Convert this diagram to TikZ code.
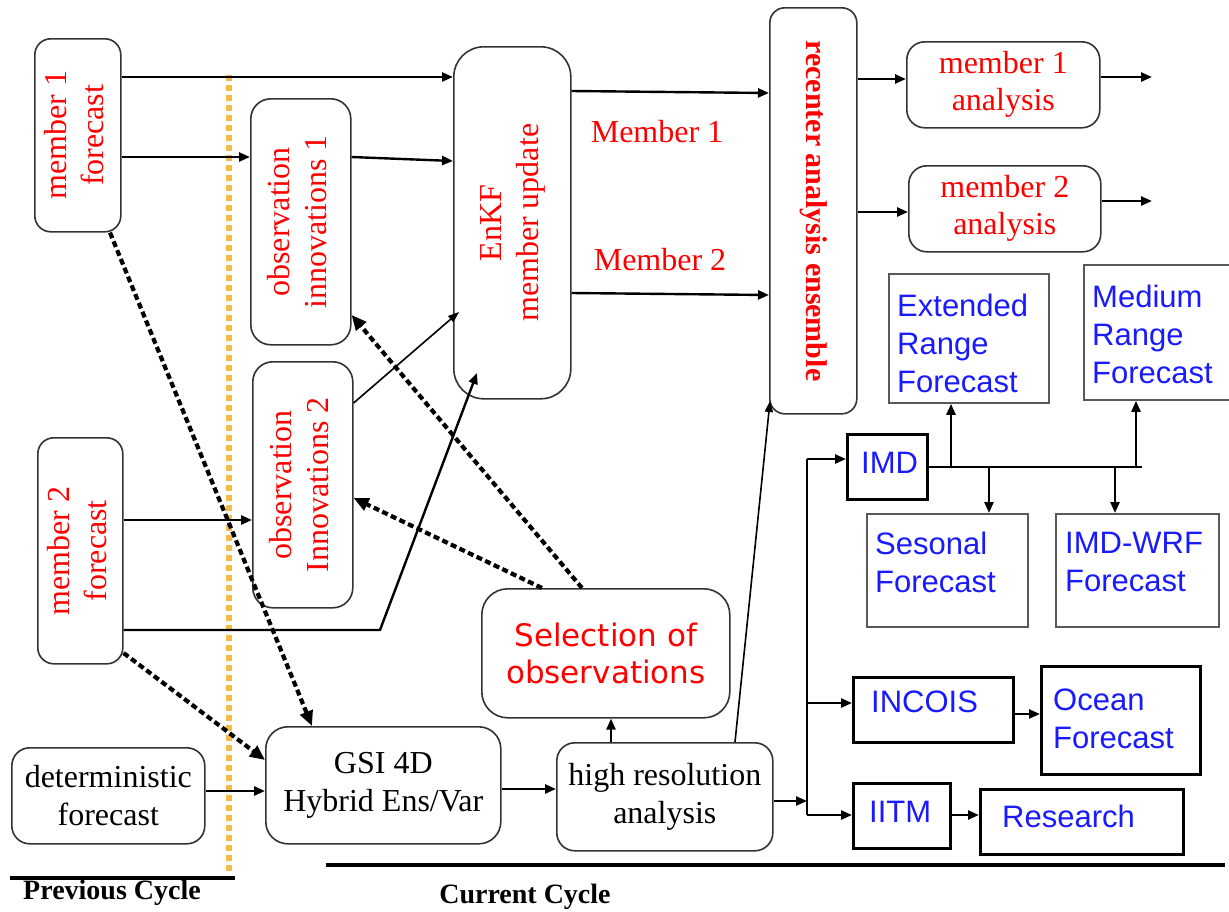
\documentclass[tikz,border=0pt]{standalone}
\usepackage{fontspec}
\setmainfont{Liberation Serif}
\newfontfamily\blueff{Liberation Sans}
\newfontfamily\selff{DejaVu Sans}
\usepackage{graphicx}
\usetikzlibrary{arrows.meta}
\definecolor{ored}{HTML}{FF0000}
\definecolor{tblue}{HTML}{1A1AFF}
\definecolor{dotorange}{HTML}{F5BA4A}
\newcommand{\rtxt}[1]{\rotatebox{90}{\begin{tabular}{@{}c@{}}#1\end{tabular}}}
\newcommand{\rtxtm}[1]{\rotatebox{-90}{#1}}
\tikzset{
  rbox/.style={draw=black!80, line width=1.6pt, rounded corners=16pt, inner sep=0pt, anchor=north west},
  sbox/.style={draw=black!65, line width=1.8pt, inner sep=0pt, anchor=north west},
  tbox/.style={draw=black, line width=2.8pt, inner sep=0pt, anchor=north west},
  redtxt/.style={text=ored, font=\fontsize{32}{37}\selectfont},
  blktxt/.style={text=black, font=\fontsize{32}{38}\selectfont},
  bluetxt/.style={text=tblue, font=\blueff\fontsize{31}{38}\selectfont, inner sep=0pt, align=left},
  arr/.style={line width=2.4pt, -{Triangle[length=11pt,width=9pt]}},
  arrthin/.style={line width=1.6pt, -{Triangle[length=11pt,width=8pt]}},
  dsh/.style={line width=4.2pt, dash pattern=on 6pt off 3.5pt, -{Triangle[length=15pt,width=13pt]}},
  conn/.style={line width=2.4pt},
}
\begin{document}
\begin{tikzpicture}[x=1pt,y=-1pt]
\useasboundingbox[fill=white] (0,0) rectangle (1229,911);

% orange dotted separator
\coordinate (dtop) at (229,75);
\coordinate (dbot) at (229,872);
\draw[dotorange, line width=6pt, dash pattern=on 6pt off 4pt] (dtop) -- (dbot);

% boxes
\node[rbox, redtxt, minimum width=86pt, minimum height=193pt] (m1) at (34,38) {\rtxt{member 1\\forecast}};
\node[rbox, redtxt, minimum width=85pt, minimum height=226pt] (m2) at (37,437) {\rtxt{member 2\\forecast}};
\node[rbox, redtxt, rounded corners=20pt, minimum width=100pt, minimum height=246pt] (oi1) at (250,98) {\rtxt{observation\\innovations 1}};
\node[rbox, redtxt, rounded corners=20pt, minimum width=100pt, minimum height=246pt] (oi2) at (252,361) {\rtxt{observation\\Innovations 2}};
\node[rbox, redtxt, rounded corners=30pt, minimum width=117pt, minimum height=352pt] (enkf) at (453,46) {\rtxt{EnKF\\member update}};
\node[rbox, text=ored, font=\bfseries\fontsize{30}{36}\selectfont, rounded corners=15pt, minimum width=87pt, minimum height=406pt] (rec) at (769,7) {\rtxtm{recenter analysis ensemble}};
\node[rbox, redtxt, align=center, rounded corners=18pt, minimum width=193pt, minimum height=86pt] (a1) at (906,41) {member 1\\analysis};
\node[rbox, redtxt, align=center, rounded corners=18pt, minimum width=192pt, minimum height=86pt] (a2) at (908,165) {member 2\\analysis};

\node[sbox, minimum width=160pt, minimum height=129pt] (ext) at (888,273) {};
\node[sbox, minimum width=160pt, minimum height=135pt] (med) at (1083,264) {};
\node[tbox, minimum width=80pt, minimum height=65pt] (imd) at (846,433) {};
\node[sbox, minimum width=161pt, minimum height=113pt] (ses) at (866,513) {};
\node[sbox, minimum width=163pt, minimum height=113pt] (wrf) at (1055,513) {};

\node[rbox, text=ored, font=\selff\fontsize{31}{37}\selectfont, align=center, rounded corners=26pt, minimum width=248pt, minimum height=129pt] (sel) at (481,588) {Selection of\\observations};
\node[rbox, blktxt, align=center, rounded corners=18pt, minimum width=193pt, minimum height=96pt] (det) at (11,747) {deterministic\\forecast};
\node[rbox, blktxt, align=center, rounded corners=22pt, minimum width=235pt, minimum height=117pt] (gsi) at (265,726) {GSI 4D\\Hybrid Ens/Var};
\node[rbox, blktxt, align=center, rounded corners=18pt, minimum width=216pt, minimum height=108pt] (hra) at (556,742) {high resolution\\analysis};

\node[tbox, minimum width=160pt, minimum height=65pt] (inc) at (852,676) {};
\node[tbox, minimum width=159pt, minimum height=108pt] (ocn) at (1040,665) {};
\node[tbox, minimum width=97pt, minimum height=65pt] (iitm) at (852,782) {};
\node[tbox, minimum width=203pt, minimum height=65pt] (res) at (979,788) {};

% blue texts
\node[bluetxt, anchor=north west] (extT) at (897,294) {Extended\\Range\\Forecast};
\node[bluetxt, anchor=north west] (medT) at (1092,285) {Medium\\Range\\Forecast};
\node[bluetxt, anchor=north west] (sesT) at (875,532) {Sesonal\\Forecast};
\node[bluetxt, anchor=north west] (wrfT) at (1065,532) {IMD-WRF\\Forecast};
\node[bluetxt, anchor=base west] (imdT) at (861,473) {IMD};
\node[bluetxt, anchor=base west] (incT) at (871,712) {INCOIS};
\node[bluetxt, anchor=north west] (ocnT) at (1053,689) {Ocean\\Forecast};
\node[bluetxt, anchor=base west] (iitmT) at (869,822) {IITM};
\node[bluetxt, anchor=base west] (resT) at (1002,827) {Research};

% labels
\node[redtxt] (lm1) at (657,132) {Member 1};
\node[redtxt] (lm2) at (660,260) {Member 2};
\node[font=\bfseries\fontsize{28}{32}\selectfont] (prev) at (112,893) {Previous Cycle};
\node[font=\bfseries\fontsize{28}{32}\selectfont] (cur) at (525,897) {Current Cycle};

% cycle lines
\coordinate (pl1) at (10,878); \coordinate (pl2) at (235,878);
\coordinate (cl1) at (326,865); \coordinate (cl2) at (1225,865);
\draw[line width=3.2pt] (pl1) -- (pl2);
\draw[line width=3.2pt] (cl1) -- (cl2);

% named free points
\coordinate (enkfA) at (459,312);
\coordinate (enkfB) at (477,373);
\coordinate (bend) at (380,630);
\coordinate (recB) at (770,401);
\coordinate (out1) at (1152,77);
\coordinate (out2) at (1152,201);
\coordinate (bt) at (807,459);
\coordinate (bm) at (807,703);
\coordinate (bb) at (807,815);
\coordinate (bh) at (807,801);
\coordinate (busL) at (926,467);
\coordinate (busR) at (1142,467);

% solid connectors
\draw[arr] (m1.east |- 0,77) -- (enkf.west |- 0,77);
\draw[arr] (m1.east |- 0,157) -- (oi1.west |- 0,157);
\draw[arr] (oi1.east |- 0,157) -- (enkf.west |- 0,161);
\draw[arrthin] (oi2.east |- 0,403) -- (enkfA);
\draw[arr] (m2.east |- 0,520) -- (oi2.west |- 0,520);
\draw[arr] (m2.east |- 0,630) -- (bend) -- (enkfB);
\draw[arr] (enkf.east |- 0,91) -- (rec.west |- 0,93);
\draw[arr] (enkf.east |- 0,293) -- (rec.west |- 0,295);
\draw[arr] (rec.east |- 0,79) -- (a1.west |- 0,79);
\draw[arr] (rec.east |- 0,212) -- (a2.west |- 0,212);
\draw[arr] (a1.east |- out1) -- (out1);
\draw[arr] (a2.east |- out2) -- (out2);
\draw[arr] (det.east |- 0,791) -- (gsi.west |- 0,791);
\draw[arr] (gsi.east |- 0,789) -- (hra.west |- 0,789);
\draw[arr] (hra.north -| 611,0) -- (sel.south -| 611,0);
\draw[arrthin] (hra.north -| 735,0) -- (recB);
\draw[arr] (hra.east |- bh) -- (bh);
\draw[conn] (bt) -- (bb);
\draw[arr] (bt) -- (imd.west |- bt);
\draw[arr] (bm) -- (inc.west |- bm);
\draw[arr] (bb) -- (iitm.west |- bb);
\draw[conn] (imd.east |- busL) -- (busR);
\draw[arr] (busL -| 951,0) -- (ext.south -| 951,0);
\draw[arr] (busL -| 1136,0) -- (med.south -| 1136,0);
\draw[arr] (busL -| 989,0) -- (ses.north -| 989,0);
\draw[arr] (busL -| 1115,0) -- (wrf.north -| 1115,0);
\draw[arr] (inc.east |- 0,714) -- (ocn.west |- 0,714);
\draw[arr] (iitm.east |- 0,815) -- (res.west |- 0,815);

% dashed connectors
\draw[dsh] (m1.south -| 110,0) -- (gsi.north -| 312,0);
\draw[dsh] (m2.east |- 0,653) -- (gsi.west |- 0,760);
\draw[dsh] (sel.north -| 582,0) -- (oi1.east |- 0,315);
\draw[dsh] (sel.north -| 542,0) -- (oi2.east |- 0,498);
\end{tikzpicture}
\end{document}
